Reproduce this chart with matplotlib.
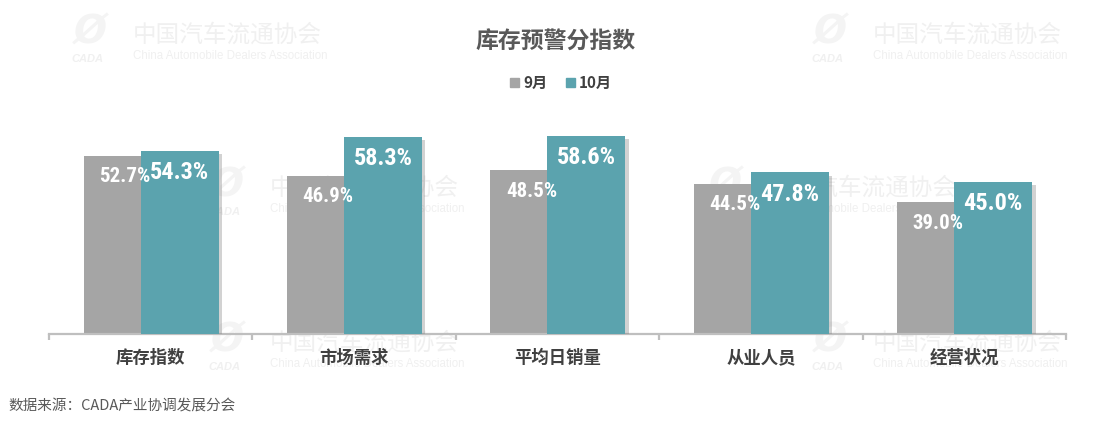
import matplotlib
matplotlib.use('Agg')
import matplotlib.pyplot as plt
from matplotlib import font_manager as fm
import matplotlib.patheffects as pe
from matplotlib.patches import Patch
import numpy as np

categories = ['库存指数', '市场需求', '平均日销量', '从业人员', '经营状况']
sep_vals = [52.7, 46.9, 48.5, 44.5, 39.0]
oct_vals = [54.3, 58.3, 58.6, 47.8, 45.0]
series_names = ['9月', '10月']
title = '库存预警分指数'
source = '数据来源：CADA产业协调发展分会'
wm_cn = '中国汽车流通协会'
wm_en = 'China Automobile Dealers Association'

names = {f.name for f in fm.fontManager.ttflist}
narrow = 'DejaVu Sans'
for cand in ['Liberation Sans Narrow', 'Arial Narrow', 'Roboto Condensed', 'Barlow Condensed', 'Asap Condensed']:
    if cand in names:
        narrow = cand
        break
CJK = ['Noto Sans CJK SC', 'DejaVu Sans']
plt.rcParams['font.family'] = CJK

W, H = 1094, 421
fig = plt.figure(figsize=(W / 100, H / 100), dpi=100)

WM = '#F0F0F0'
def watermark(xt, yc):
    fig.text(xt / W, 1 - yc / H, wm_cn, color=WM, fontsize=17,
             va='center', ha='left', zorder=-5)
    fig.text(xt / W, 1 - (yc + 21) / H, wm_en, color=WM, fontsize=8.3,
             va='center', ha='left', zorder=-5, family=['Liberation Sans', 'DejaVu Sans'])
    fig.text((xt - 62) / W, 1 - (yc + 24) / H, 'CADA', color=WM, fontsize=8,
             style='italic', weight='bold', va='center', ha='left', zorder=-5,
             family=['Liberation Sans', 'DejaVu Sans'])
    fig.text((xt - 43) / W, 1 - (yc - 2) / H, 'Ø', color='#F4F4F4', fontsize=28,
             style='italic', weight='bold', va='center', ha='center', zorder=-5,
             family=['DejaVu Sans'])

for xt, yc in [(133, 35), (873, 35), (270, 188), (768, 188), (270, 343), (873, 343)]:
    watermark(xt, yc)

ax = fig.add_axes([49 / W, 87 / H, (1066 - 49) / W, 223 / H])
ax.patch.set_visible(False)
ax.set_xlim(-0.5, 4.5)
ax.set_ylim(0, 66)

x = np.arange(len(categories))
w = 0.383
shadow = [pe.SimplePatchShadow(offset=(2.5, -2.5), shadow_rgbFace='#7F7F7F', alpha=0.35), pe.Normal()]
ax.bar(x - 0.138, sep_vals, w, color='#A5A5A5', zorder=2, path_effects=shadow)
ax.bar(x + 0.142, oct_vals, w, color='#5BA3AE', zorder=3, path_effects=shadow)

for xi, v in zip(x, sep_vals):
    ax.text(xi - 0.128, v - 6.2, f'{v:.1f}%', ha='center', va='center', color='white',
            fontsize=15, weight=800, family=[narrow], zorder=6)
for xi, v in zip(x, oct_vals):
    ax.text(xi + 0.142, v - 6.4, f'{v:.1f}%', ha='center', va='center', color='white',
            fontsize=17.5, weight=800, family=[narrow], zorder=6)

for s in ['left', 'right', 'top']:
    ax.spines[s].set_visible(False)
ax.spines['bottom'].set_color('#BFBFBF')
ax.spines['bottom'].set_linewidth(1.6)
ax.set_yticks([])
ax.set_xticks(x)
ax.set_xticklabels(categories, fontsize=12.5, weight='bold', color='#404040')
ax.tick_params(axis='x', which='major', length=0, pad=11)
ax.set_xticks(np.arange(-0.5, 5, 1), minor=True)
ax.tick_params(axis='x', which='minor', length=4, width=1.6, color='#BFBFBF')

fig.text(556 / W, 1 - 42 / H, title, ha='center', va='center', fontsize=16.5,
         weight='bold', color='#595959')

handles = [Patch(color='#A5A5A5'), Patch(color='#5BA3AE')]
fig.legend(handles, series_names, loc='center', bbox_to_anchor=(561 / W, 1 - 83 / H),
           ncol=2, frameon=False, handlelength=0.6, handleheight=0.6,
           handletextpad=0.25, columnspacing=1.2,
           prop={'family': CJK, 'weight': 'bold', 'size': 11}, labelcolor='#404040')

fig.text(8 / W, 1 - 407 / H, source, ha='left', va='center', fontsize=10.5, color='#595959')

fig.savefig('out.png', dpi=100)
